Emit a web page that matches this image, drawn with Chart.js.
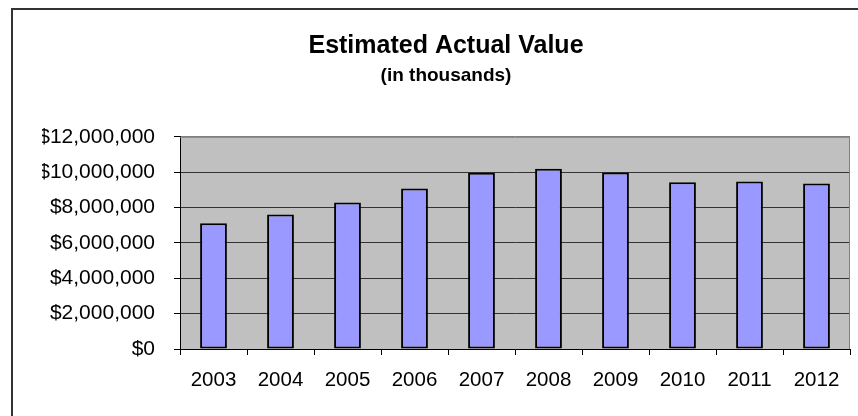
<!DOCTYPE html>
<html>
<head>
<meta charset="utf-8">
<script src="https://cdn.jsdelivr.net/npm/chart.js@4/dist/chart.umd.min.js"></script>
<style>
    html, body { margin: 0; padding: 0; background: #fff; }
    #wrap { width: 858px; height: 416px; }
</style>
</head>
<body>
<div id="wrap"><canvas id="valueChart" width="858" height="416"></canvas></div>
<script>
const years = ['2003', '2004', '2005', '2006', '2007', '2008', '2009', '2010', '2011', '2012'];
const actualValues = [7110000, 7600000, 8280000, 9070000, 9960000, 10200000, 9980000, 9430000, 9470000, 9360000];
const yTicks = [0, 2000000, 4000000, 6000000, 8000000, 10000000, 12000000];

const fontFamily = '"Liberation Sans", Arial, sans-serif';

// frame + grey plot area, like the old spreadsheet chart
const backdrop = {
    id: 'backdrop',
    beforeDraw(chart) {
        const ctx = chart.ctx;
        const a = chart.chartArea;
        ctx.save();
        ctx.strokeStyle = '#333';
        ctx.lineWidth = 2;
        ctx.strokeRect(12, 9, 900, 500);
        ctx.fillStyle = '#c0c0c0';
        ctx.fillRect(a.left, a.top, a.right - a.left, a.bottom - a.top);
        ctx.restore();
    },
    beforeDatasetsDraw(chart) {
        const ctx = chart.ctx;
        const a = chart.chartArea;
        ctx.save();
        ctx.strokeStyle = '#808080';
        ctx.lineWidth = 1;
        ctx.beginPath();
        ctx.moveTo(a.left, a.top + 0.5);
        ctx.lineTo(a.right - 0.5, a.top + 0.5);
        ctx.lineTo(a.right - 0.5, a.bottom);
        ctx.stroke();
        ctx.restore();
    }
};

const ctx = document.getElementById('valueChart').getContext('2d');
const chart = new Chart(ctx, {
    type: 'bar',
    data: {
        labels: years,
        datasets: [{
            label: 'Estimated Actual Value',
            data: actualValues,
            backgroundColor: '#9999ff',
            borderColor: '#000',
            borderWidth: 2,
            borderSkipped: false,
            barPercentage: 0.4,
            categoryPercentage: 1.0
        }]
    },
    options: {
        responsive: false,
        animation: false,
        layout: { padding: { left: 42, right: 8, top: 0, bottom: 0 } },
        plugins: {
            legend: { display: false },
            tooltip: { enabled: false },
            title: {
                display: true,
                text: 'Estimated Actual Value',
                color: '#000',
                font: { family: fontFamily, size: 25, weight: 'bold' },
                padding: { top: 31, bottom: 3 }
            },
            subtitle: {
                display: true,
                text: '(in thousands)',
                color: '#000',
                font: { family: fontFamily, size: 19, weight: 'bold' },
                padding: { top: 0, bottom: 50 }
            }
        },
        scales: {
            x: {
                grid: {
                    drawOnChartArea: false,
                    drawTicks: true,
                    tickLength: 6,
                    color: '#000',
                    offset: true
                },
                border: { color: '#000', width: 1 },
                ticks: {
                    color: '#000',
                    font: { family: fontFamily, size: 20.5 },
                    padding: 13,
                    maxRotation: 0
                },
                afterFit(scale) { scale.height = 67; }
            },
            y: {
                min: 0,
                max: 12000000,
                afterBuildTicks(scale) {
                    scale.ticks = yTicks.map(v => ({ value: v }));
                },
                grid: {
                    color: c => (c.tick && c.tick.value === 12000000) ? '#808080' : '#333',
                    tickColor: '#000',
                    tickLength: 6,
                    lineWidth: 1
                },
                border: { color: '#000', width: 1 },
                ticks: {
                    color: '#000',
                    font: { family: fontFamily, size: 21 },
                    padding: 19,
                    callback: v => '$' + Number(v).toLocaleString('en-US')
                },
                afterFit(scale) { scale.width = 138; }
            }
        }
    },
    plugins: [backdrop]
});
</script>
</body>
</html>
